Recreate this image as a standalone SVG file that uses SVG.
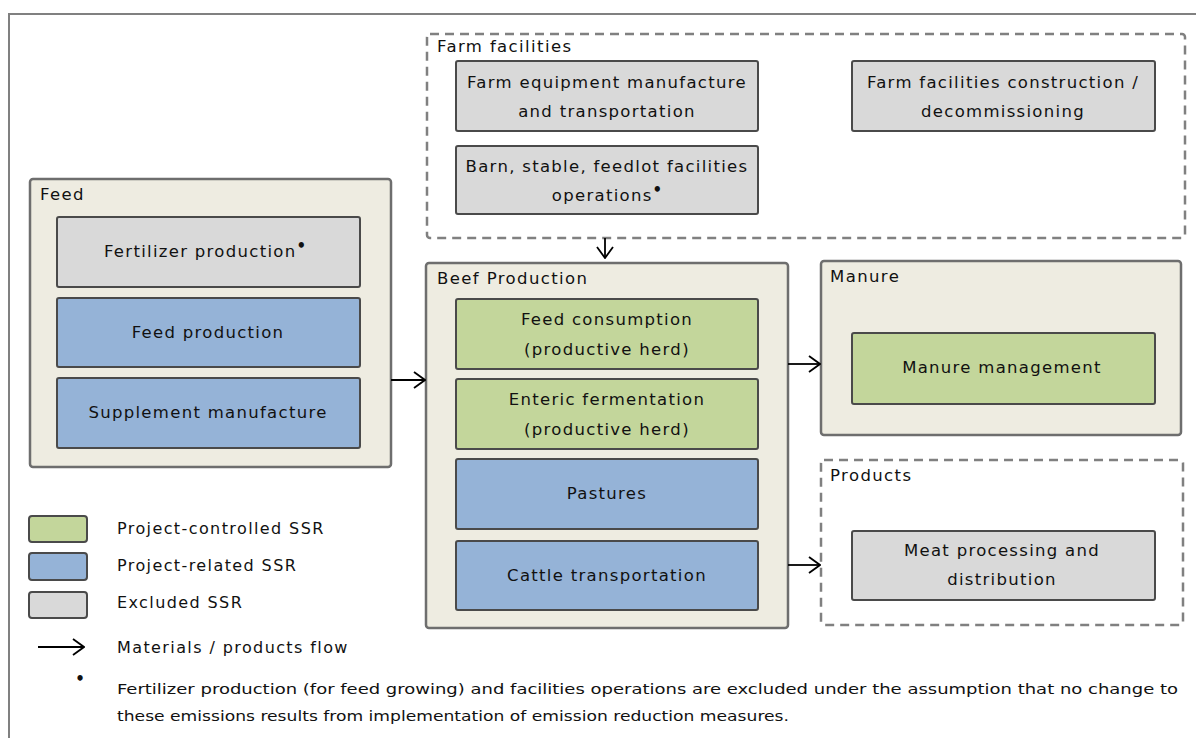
<svg xmlns="http://www.w3.org/2000/svg" width="1196" height="738" viewBox="0 0 1196 738">
<defs>
<style>
.cont{fill:#eeece1;stroke:#6e6e6e;stroke-width:2.5}
.dash{fill:none;stroke:#808080;stroke-width:2.5;stroke-dasharray:9 6}
.gray{fill:#d9d9d9;stroke:#4a4a4a;stroke-width:2}
.blue{fill:#95b3d7;stroke:#4a4a4a;stroke-width:2}
.green{fill:#c3d69b;stroke:#4a4a4a;stroke-width:2}
text{font-family:"DejaVu Sans",Verdana,sans-serif;fill:#111111}
.t{font-size:16.5px;letter-spacing:1.3px;text-anchor:middle}
.h{font-size:16.5px;letter-spacing:1.4px}
.lg{font-size:16px;letter-spacing:1.4px}
.fn{font-size:14.5px}
.sup{font-size:15px;font-weight:bold;letter-spacing:0}
.conn{fill:none;stroke:#000;stroke-width:1.8}
</style>
<marker id="ah" viewBox="0 0 13 18" refX="12" refY="9" markerWidth="13" markerHeight="18" markerUnits="userSpaceOnUse" orient="auto">
<path d="M1,1 L12,9 L1,17" fill="none" stroke="#000" stroke-width="1.8"/>
</marker>
</defs>
<rect width="1196" height="738" fill="#ffffff"/>
<path d="M9,738 V14 H1196" fill="none" stroke="#808080" stroke-width="2"/>

<g id="feed">
<rect class="cont" x="30" y="179" width="361" height="288" rx="3"/>
<text class="h" x="40" y="200">Feed</text>
</g>
<g id="fertilizer">
<rect class="gray" x="57" y="217" width="303" height="70" rx="2"/>
<text class="t" x="205" y="257">Fertilizer production<tspan class="sup" dy="-6">•</tspan></text>
</g>
<g id="feed-production">
<rect class="blue" x="57" y="298" width="303" height="69" rx="2"/>
<text class="t" x="208" y="338">Feed production</text>
</g>
<g id="supplement">
<rect class="blue" x="57" y="378" width="303" height="70" rx="2"/>
<text class="t" x="208" y="418">Supplement manufacture</text>
</g>

<g id="farm-facilities">
<rect class="dash" x="427" y="34" width="758" height="204" rx="3"/>
<text class="h" x="437" y="52">Farm facilities</text>
</g>
<g id="farm-equipment">
<rect class="gray" x="456" y="61" width="302" height="70" rx="2"/>
<text class="t" x="607" y="88">Farm equipment manufacture</text>
<text class="t" x="607" y="117">and transportation</text>
</g>
<g id="barn">
<rect class="gray" x="456" y="146" width="302" height="68" rx="2"/>
<text class="t" x="607" y="172">Barn, stable, feedlot facilities</text>
<text class="t" x="607" y="201">operations<tspan class="sup" dy="-6">•</tspan></text>
</g>
<g id="construction">
<rect class="gray" x="852" y="61" width="303" height="70" rx="2"/>
<text class="t" x="1003" y="88">Farm facilities construction /</text>
<text class="t" x="1003" y="117">decommissioning</text>
</g>

<g id="beef-production">
<rect class="cont" x="426" y="263" width="362" height="365" rx="3"/>
<text class="h" x="437" y="284">Beef Production</text>
</g>
<g id="feed-consumption">
<rect class="green" x="456" y="299" width="302" height="70" rx="2"/>
<text class="t" x="607" y="325">Feed consumption</text>
<text class="t" x="607" y="355">(productive herd)</text>
</g>
<g id="enteric">
<rect class="green" x="456" y="379" width="302" height="70" rx="2"/>
<text class="t" x="607" y="405">Enteric fermentation</text>
<text class="t" x="607" y="435">(productive herd)</text>
</g>
<g id="pastures">
<rect class="blue" x="456" y="459" width="302" height="70" rx="2"/>
<text class="t" x="607" y="499">Pastures</text>
</g>
<g id="cattle">
<rect class="blue" x="456" y="541" width="302" height="69" rx="2"/>
<text class="t" x="607" y="581">Cattle transportation</text>
</g>

<g id="manure">
<rect class="cont" x="821" y="261" width="360" height="174" rx="3"/>
<text class="h" x="830" y="282">Manure</text>
</g>
<g id="manure-management">
<rect class="green" x="852" y="333" width="303" height="71" rx="2"/>
<text class="t" x="1002" y="373">Manure management</text>
</g>

<g id="products">
<rect class="dash" x="821" y="460" width="362" height="165" rx="3"/>
<text class="h" x="830" y="481">Products</text>
</g>
<g id="meat">
<rect class="gray" x="852" y="531" width="303" height="69" rx="2"/>
<text class="t" x="1002" y="556">Meat processing and</text>
<text class="t" x="1002" y="585">distribution</text>
</g>

<g id="connectors">
<path class="conn" d="M605,238 V258" marker-end="url(#ah)"/>
<path class="conn" d="M391,380 H425" marker-end="url(#ah)"/>
<path class="conn" d="M788,364 H820" marker-end="url(#ah)"/>
<path class="conn" d="M788,565 H820" marker-end="url(#ah)"/>
</g>

<g id="legend">
<rect class="green" x="29" y="516" width="58" height="26" rx="3"/>
<rect class="blue" x="29" y="553" width="58" height="27" rx="3"/>
<rect class="gray" x="29" y="592" width="58" height="26" rx="3"/>
<text class="lg" x="117" y="534">Project-controlled SSR</text>
<text class="lg" x="117" y="571">Project-related SSR</text>
<text class="lg" x="117" y="608">Excluded SSR</text>
<path class="conn" d="M38,647 H84" marker-end="url(#ah)"/>
<text class="lg" x="117" y="653">Materials / products flow</text>
<text class="sup" x="80" y="684" text-anchor="middle">•</text>
<text class="fn" x="117" y="694" textLength="1061" lengthAdjust="spacingAndGlyphs">Fertilizer production (for feed growing) and facilities operations are excluded under the assumption that no change to</text>
<text class="fn" x="117" y="721" textLength="672" lengthAdjust="spacingAndGlyphs">these emissions results from implementation of emission reduction measures.</text>
</g>
</svg>
